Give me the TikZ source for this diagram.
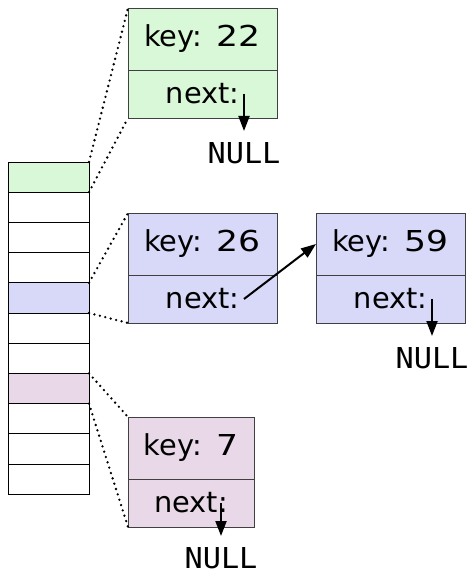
\documentclass[tikz,border=0pt]{standalone}
\usepackage{fontspec}
\setmainfont{DejaVu Sans}
\setmonofont[FakeStretch=1.05]{DejaVu Sans Mono}
\newfontfamily\keynum[FakeStretch=1.2]{DejaVu Sans}
\usetikzlibrary{arrows.meta,positioning}
\definecolor{hgreen}{RGB}{216,248,216}
\definecolor{hblue}{RGB}{216,216,248}
\definecolor{hpink}{RGB}{232,216,232}

\begin{document}
\begin{tikzpicture}[font=\fontsize{14.4}{17}\selectfont,
  cell/.style={draw,minimum width=40.5pt,minimum height=15.1pt,inner sep=0pt,outer sep=0pt},
  keybox/.style={draw=black!75,minimum width=74.5pt,minimum height=31pt,inner sep=0pt,outer sep=0pt},
  nextbox/.style={draw=black!75,minimum width=74.5pt,minimum height=24pt,inner sep=0pt,outer sep=0pt},
  nullt/.style={font=\fontsize{14.4}{17}\ttfamily,inner sep=2pt},
  ptr/.style={-{Triangle[length=7.5pt,width=5.5pt]},line width=1pt,shorten >=3.5pt},
  bucket/.style={line width=1.3pt,line cap=round,dash pattern=on 0pt off 2.8pt}]
\useasboundingbox (0,0) rectangle (235pt,-288pt);
% hash table
\foreach \i/\col in {0/hgreen,1/white,2/white,3/white,4/hblue,5/white,6/white,7/hpink,8/white,9/white,10/white}
  \node[cell,fill=\col] (c\i) at (24.25pt,{-88.55pt-\i*15.1pt}) {};
% chains
\node[keybox,fill=hgreen,anchor=north west] (k22) at (64pt,-4pt) {key:\enspace{\keynum 22}};
\node[nextbox,fill=hgreen,below=0pt of k22] (n22) {next:};
\node[keybox,fill=hblue,anchor=north west] (k26) at (64pt,-106.5pt) {key:\enspace{\keynum 26}};
\node[nextbox,fill=hblue,below=0pt of k26] (n26) {next:};
\node[keybox,fill=hblue,right=19.5pt of k26] (k59) {key:\enspace{\keynum 59}};
\node[nextbox,fill=hblue,below=0pt of k59] (n59) {next:};
\node[keybox,fill=hpink,minimum width=63pt,anchor=north west] (k7) at (64pt,-208.5pt) {key:\enspace{\keynum 7}};
\node[nextbox,fill=hpink,minimum width=63pt,below=0pt of k7] (n7) {next:};
\coordinate[left=16.5pt of n22.east] (p22);
\coordinate[left=16.5pt of n26.east] (p26);
\coordinate[left=16.5pt of n59.east] (p59);
\coordinate[left=16.5pt of n7.east] (p7);
\node[nullt,below=22pt of p22] (null22) {NULL};
\node[nullt,below=22pt of p59] (null59) {NULL};
\node[nullt,below=20pt of p7] (null7) {NULL};
% buckets to chains
\draw[bucket] (c0.north east) -- (k22.north west);
\draw[bucket] (c0.south east) -- (n22.south west);
\draw[bucket] (c4.north east) -- (k26.north west);
\draw[bucket] (c4.south east) -- (n26.south west);
\draw[bucket] (c7.north east) -- (k7.north west);
\draw[bucket] (c7.south east) -- (n7.south west);
% pointers
\draw[ptr] (p22) -- (null22);
\draw[ptr,shorten >=0pt] (p26) -- (k59.west);
\draw[ptr] (p59) -- (null59);
\draw[ptr] (p7) -- (null7);
\end{tikzpicture}
\end{document}
